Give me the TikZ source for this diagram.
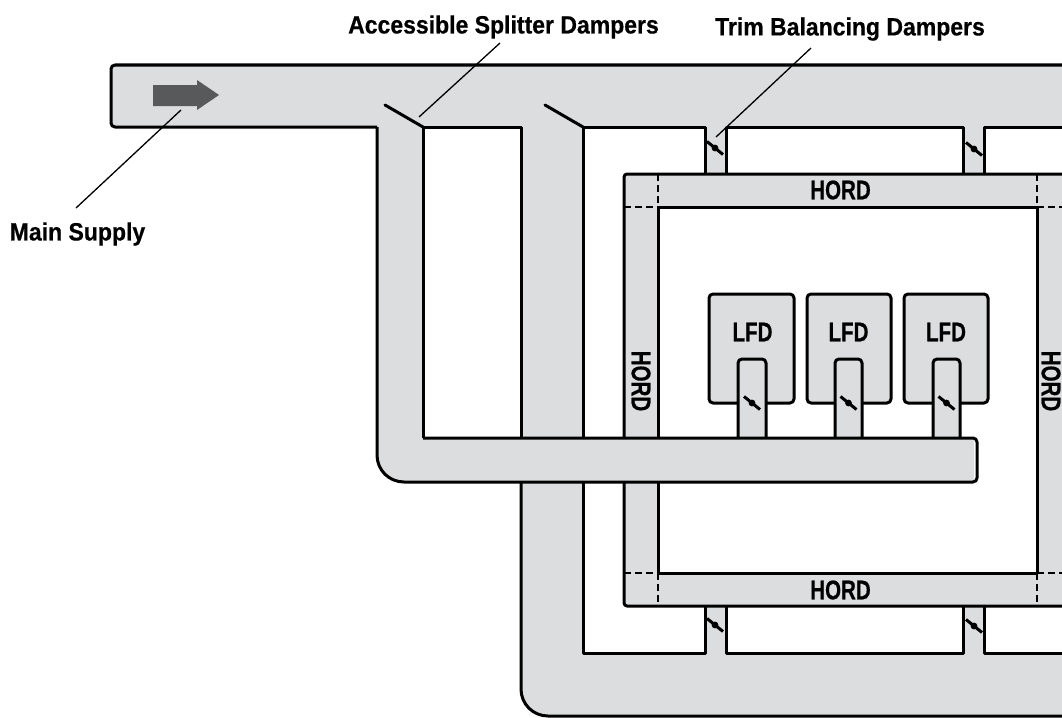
\documentclass[tikz,border=0pt]{standalone}
\usepackage{fontspec}
\setmainfont{Liberation Sans}
\newfontface\lblface{Liberation Sans Bold}[FakeStretch=0.92,FakeBold=0.5]
\newfontface\tagface{Liberation Sans Bold}[FakeStretch=0.76,FakeBold=0.5]
\tikzset{
  x=1pt,y=-1pt,
  duct/.style={fill=ductgray,draw=none},
  wall/.style={draw=black,line width=3pt,line join=round},
  ductwall/.style={fill=ductgray,draw=black,line width=3pt,line join=round},
  seam/.style={draw=black,line width=2.6pt,dash pattern=on 7pt off 4pt},
  leader/.style={draw=black,line width=1.3pt},
  blade/.style={draw=black,line width=3pt,line cap=round},
  damper/.style={draw=black,line width=3pt},
  lbl/.style={font=\lblface\fontsize{25}{27}\selectfont,inner sep=0pt,text=black},
  tag/.style={font=\tagface\fontsize{27}{29}\selectfont,inner sep=0pt,text=black},
}
\definecolor{ductgray}{HTML}{DCDDDE}
\definecolor{arrowgray}{HTML}{58595B}
\newcommand{\damperat}[2]{%
  \draw[damper] (#1-8,#2-6.5) -- (#1+8,#2+6.5);
  \fill[black] (#1,#2) circle (3.4pt);}
\begin{document}
\begin{tikzpicture}
\useasboundingbox (0,0) rectangle (1062,717);
\clip (0,0) rectangle (1062,717);
% gray regions
\fill[duct,rounded corners=4pt] (1080,65) -- (111,65) -- (111,127) -- (1080,127) -- cycle;
\fill[duct] (377,120) rectangle (423,450);
\fill[duct] (521,120) -- (521,689) .. controls (521,704) and (533,716) .. (548,716) -- (1080,716) -- (1080,653) -- (583,653) -- (583,120) -- cycle;
\fill[duct] (705,120) rectangle (726,180);
\fill[duct] (963,120) rectangle (984,180);
\fill[duct] (705,600) rectangle (726,660);
\fill[duct] (963,600) rectangle (984,660);
\fill[duct,rounded corners=3pt] (624,174) rectangle (1080,606);
\fill[white] (658,207) rectangle (1037,573);
% upper walls
\draw[wall,rounded corners=4pt] (1080,65) -- (111,65) -- (111,127) -- (377,127);
\draw[wall] (583,438) -- (583,127) -- (705,127) -- (705,174);
\draw[wall] (726,174) -- (726,127) -- (963,127) -- (963,174);
\draw[wall] (984,174) -- (984,127) -- (1080,127);
% lower walls
\draw[wall] (521,482) -- (521,689) .. controls (521,704) and (533,716) .. (548,716) -- (1080,716);
\draw[wall] (583,482) -- (583,653) -- (705,653) -- (705,606);
\draw[wall] (726,606) -- (726,653) -- (963,653) -- (963,606);
\draw[wall] (984,606) -- (984,653) -- (1080,653);
% HORD ring
\draw[wall,rounded corners=3pt] (624,438) -- (624,174) -- (1080,174);
\draw[wall,rounded corners=3pt] (624,482) -- (624,606) -- (1080,606);
\draw[wall] (658,438) -- (658,207) -- (1037,207) -- (1037,573) -- (658,573) -- (658,482);
\draw[seam] (658,174) -- (658,207);
\draw[seam] (624,207) -- (658,207);
\draw[seam] (1037,174) -- (1037,207);
\draw[seam] (1037,207) -- (1080,207);
\draw[seam] (624,573) -- (658,573);
\draw[seam] (658,573) -- (658,606);
\draw[seam] (1037,573) -- (1037,606);
\draw[seam] (1037,573) -- (1080,573);
% LFD boxes
\draw[ductwall,rounded corners=4pt] (709,294) rectangle (794,403);
\draw[ductwall,rounded corners=4pt] (807,294) rectangle (891,403);
\draw[ductwall,rounded corners=4pt] (904,294) rectangle (988,403);
\draw[ductwall,rounded corners=4pt] (738,445) -- (738,359) -- (766,359) -- (766,445);
\draw[ductwall,rounded corners=4pt] (835,445) -- (835,359) -- (862,359) -- (862,445);
\draw[ductwall,rounded corners=4pt] (933,445) -- (933,359) -- (960,359) -- (960,445);
% cross duct
\fill[duct] (377,400) -- (377,455) .. controls (377,470) and (389,482) .. (404,482) -- (974,482) -- (974,438) -- (423,438) -- (423,400) -- cycle;
\draw[wall] (423,438) -- (423,127) -- (521,127) -- (521,438);
\draw[wall] (377,127) -- (377,455) .. controls (377,470) and (389,482) .. (404,482) [rounded corners=4pt] -- (977,482) -- (977,438) [sharp corners] -- (423,438);
% dampers
\damperat{715}{148}
\damperat{974}{149}
\damperat{715}{625}
\damperat{974}{626}
\damperat{752}{403}
\damperat{848.5}{403}
\damperat{946.5}{403}
% splitter blades
\draw[blade] (385,105) -- (423,127);
\draw[blade] (545,105) -- (583,127);
% supply arrow
\fill[arrowgray] (153,85) -- (197,85) -- (197,80) -- (219,95) -- (197,110) -- (197,106) -- (153,106) -- cycle;
% labels
\node[lbl] (splitter) at (503.5,27) {Accessible Splitter Dampers};
\node[lbl] (trim) at (850,29) {Trim Balancing Dampers};
\node[lbl] (supply) at (77.5,234) {Main Supply};
\node[tag] (hordT) at (840.5,190) {HORD};
\node[tag] (hordB) at (840.5,590) {HORD};
\node[tag,rotate=-90] (hordL) at (641,381) {HORD};
\node[tag,rotate=-90] (hordR) at (1051,381) {HORD};
\node[tag] (lfdA) at (752.5,332) {LFD};
\node[tag] (lfdB) at (848.5,332) {LFD};
\node[tag] (lfdC) at (946,332) {LFD};
% leaders
\coordinate (splitEnd) at (419,117);
\coordinate (trimEnd) at (716,137);
\coordinate (supplyEnd) at (181,110);
\coordinate (splitStart) at (500,43);
\coordinate (trimStart) at (811,48);
\coordinate (supplyStart) at (76,208);
\draw[leader] (splitStart) -- (splitEnd);
\draw[leader] (trimStart) -- (trimEnd);
\draw[leader] (supplyStart) -- (supplyEnd);
\end{tikzpicture}
\end{document}
